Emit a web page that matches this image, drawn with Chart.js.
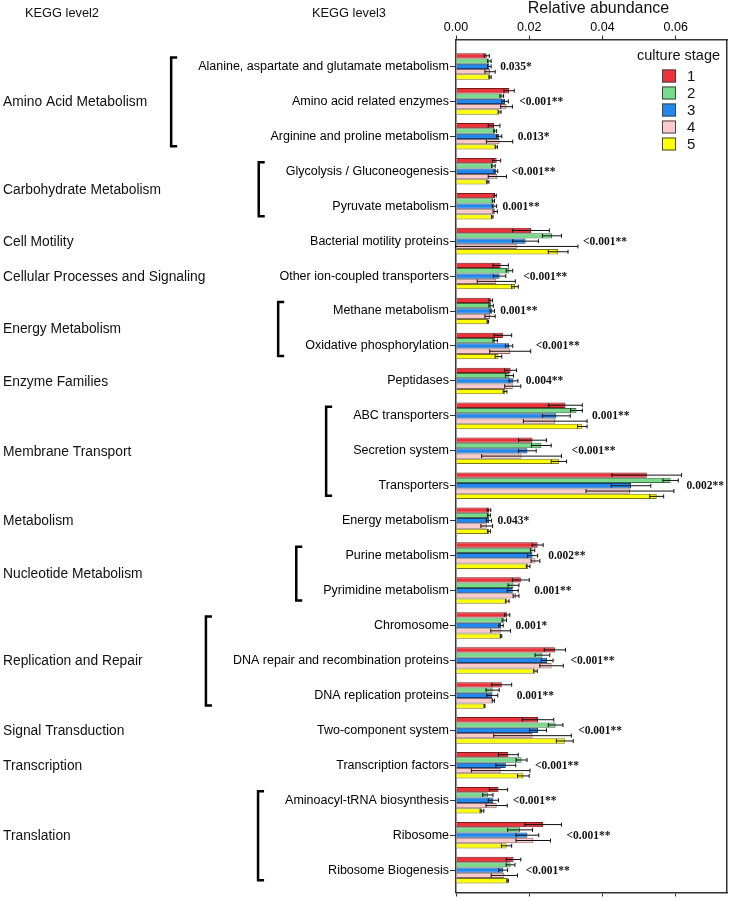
<!DOCTYPE html>
<html><head><meta charset="utf-8">
<script src="https://cdn.jsdelivr.net/npm/chart.js@4.4.1/dist/chart.umd.min.js"></script>
<style>html,body{margin:0;padding:0;background:#fff;}#wrap{width:730px;height:901px;position:relative;}</style>
</head><body><div id="wrap"><canvas id="c" width="730" height="901"></canvas></div>
<script>
// ---------- DATA ----------
const categories = [
  "Alanine, aspartate and glutamate metabolism","Amino acid related enzymes","Arginine and proline metabolism",
  "Glycolysis / Gluconeogenesis","Pyruvate metabolism","Bacterial motility proteins","Other ion-coupled transporters",
  "Methane metabolism","Oxidative phosphorylation","Peptidases","ABC transporters","Secretion system","Transporters",
  "Energy metabolism","Purine metabolism","Pyrimidine metabolism","Chromosome","DNA repair and recombination proteins",
  "DNA replication proteins","Two-component system","Transcription factors","Aminoacyl-tRNA biosynthesis","Ribosome",
  "Ribosome Biogenesis"
];
const groupNames = ["Amino Acid Metabolism","Carbohydrate Metabolism","Cell Motility","Cellular Processes and Signaling",
  "Energy Metabolism","Enzyme Families","Membrane Transport","Metabolism","Nucleotide Metabolism","Replication and Repair",
  "Signal Transduction","Transcription","Translation"];
const groupSizes = [3,2,1,1,2,1,3,1,2,3,1,1,3];
const stageNames = ["1","2","3","4","5"];
const stage1 = [0.0084,0.0145,0.0104,0.0111,0.0107,0.0205,0.0122,0.0095,0.0128,0.0149,0.0299,0.0209,0.0521,0.0090,0.0223,0.0177,0.0140,0.0270,0.0125,0.0224,0.0143,0.0116,0.0238,0.0157];
const stage2 = [0.0091,0.0125,0.0107,0.0102,0.0102,0.0262,0.0146,0.0096,0.0107,0.0146,0.0329,0.0233,0.0586,0.0090,0.0209,0.0157,0.0132,0.0236,0.0100,0.0272,0.0179,0.0087,0.0175,0.0149];
const stage3 = [0.0091,0.0134,0.0118,0.0109,0.0105,0.0190,0.0119,0.0099,0.0145,0.0157,0.0274,0.0195,0.0478,0.0090,0.0209,0.0155,0.0123,0.0249,0.0099,0.0224,0.0136,0.0102,0.0195,0.0129];
const stage4 = [0.0093,0.0138,0.0119,0.0113,0.0107,0.0166,0.0110,0.0093,0.0148,0.0155,0.0271,0.0179,0.0475,0.0084,0.0217,0.0164,0.0122,0.0261,0.0102,0.0209,0.0122,0.0111,0.0211,0.0132];
const stage5 = [0.0093,0.0119,0.0110,0.0087,0.0099,0.0279,0.0161,0.0087,0.0116,0.0134,0.0345,0.0281,0.0548,0.0090,0.0197,0.0140,0.0123,0.0217,0.0078,0.0297,0.0184,0.0071,0.0138,0.0141];
const stage1Err = [0.0007,0.0014,0.0016,0.0011,0.0003,0.0050,0.0021,0.0005,0.0024,0.0016,0.0046,0.0038,0.0095,0.0005,0.0015,0.0023,0.0007,0.0029,0.0027,0.0043,0.0027,0.0025,0.0050,0.0020];
const stage2Err = [0.0005,0.0005,0.0004,0.0005,0.0003,0.0026,0.0009,0.0006,0.0006,0.0011,0.0016,0.0027,0.0021,0.0004,0.0006,0.0015,0.0006,0.0020,0.0018,0.0020,0.0015,0.0014,0.0034,0.0012];
const stage3Err = [0.0005,0.0009,0.0007,0.0005,0.0006,0.0035,0.0017,0.0006,0.0010,0.0012,0.0038,0.0024,0.0054,0.0007,0.0014,0.0015,0.0006,0.0016,0.0015,0.0023,0.0027,0.0014,0.0031,0.0012];
const stage4Err = [0.0014,0.0016,0.0036,0.0025,0.0006,0.0167,0.0052,0.0014,0.0056,0.0022,0.0087,0.0109,0.0120,0.0016,0.0012,0.0008,0.0027,0.0032,0.0003,0.0106,0.0080,0.0029,0.0047,0.0036];
const stage5Err = [0.0003,0.0004,0.0003,0.0003,0.0002,0.0027,0.0009,0.0002,0.0009,0.0005,0.0013,0.0021,0.0019,0.0004,0.0005,0.0005,0.0002,0.0005,0.0001,0.0023,0.0016,0.0005,0.0014,0.0002];
const pValues = ["0.035*","<0.001**","0.013*","<0.001**","0.001**","<0.001**","<0.001**","0.001**","<0.001**","0.004**",
  "0.001**","<0.001**","0.002**","0.043*","0.002**","0.001**","0.001*","<0.001**","0.001**","<0.001**","<0.001**",
  "<0.001**","<0.001**","<0.001**"];
const xTicks = [0, 0.02, 0.04, 0.06];

// ---------- STYLE ----------
const SANS = '"Liberation Sans", Arial, Helvetica, sans-serif';
const SERIF = '"Liberation Serif", "Times New Roman", serif';
const fills = ['#EC333B','#78DB8C','#2088EE','#FDCBCB','#FFFF00'];
const edges = ['#7a1a1a','#3d6d45','#1a3f75','#8a6a6a','#77771a'];
const allVals = [stage1,stage2,stage3,stage4,stage5];
const allErrs = [stage1Err,stage2Err,stage3Err,stage4Err,stage5Err];

const datasets = allVals.map((vals,i)=>({
  label: stageNames[i],
  data: vals.map((v,j)=>({x:v, y:j})),
  errors: allErrs[i],
  backgroundColor: fills[i],
  borderColor: edges[i],
  borderWidth: 1,
  borderSkipped: 'start',
  categoryPercentage: 0.76,
  barPercentage: 1.0,
  xAxisID: 'x', yAxisID: 'y'
}));

const Y_MIN = -0.77, Y_MAX = 23.64;

const errorBars = {
  id:'errorBars',
  afterDatasetsDraw(chart){
    const ctx = chart.ctx, xs = chart.scales.x;
    ctx.save();
    ctx.strokeStyle = '#111'; ctx.lineWidth = 1;
    chart.data.datasets.forEach((ds,i)=>{
      const meta = chart.getDatasetMeta(i);
      meta.data.forEach((el,j)=>{
        const v = ds.data[j].x, e = ds.errors[j];
        const x1 = xs.getPixelForValue(v-e), x2 = xs.getPixelForValue(v+e);
        const y = el.y, h = 2;
        ctx.beginPath();
        ctx.moveTo(x1,y); ctx.lineTo(x2,y);
        ctx.moveTo(x1,y-h); ctx.lineTo(x1,y+h);
        ctx.moveTo(x2,y-h); ctx.lineTo(x2,y+h);
        ctx.stroke();
      });
    });
    ctx.restore();
  }
};

const annotations = {
  id:'annotations',
  afterDraw(chart){
    const ctx = chart.ctx, xs = chart.scales.x, ys = chart.scales.y, area = chart.chartArea;
    ctx.save();
    // axis title
    ctx.font = '16px ' + SANS; ctx.fillStyle = '#111'; ctx.textAlign = 'center'; ctx.textBaseline = 'middle';
    ctx.fillText('Relative abundance', area.left + 142.5, 8.5);
    // p-values
    ctx.font = 'bold 11.5px ' + SERIF;
    ctx.fillStyle = '#111'; ctx.textBaseline = 'middle'; ctx.textAlign = 'left';
    categories.forEach((c,j)=>{
      let mx = 0;
      allVals.forEach((vals,i)=>{ mx = Math.max(mx, vals[j] + allErrs[i][j]); });
      ctx.fillText(pValues[j], xs.getPixelForValue(mx) + 5, ys.getPixelForValue(j) + 0.5);
    });
    // headers
    ctx.font = '12.8px ' + SANS;
    ctx.fillStyle = '#111';
    ctx.fillText('KEGG level2', 25, 13);
    ctx.fillText('KEGG level3', 312, 13);
    // groups & brackets
    const labelRight = area.left - 7;
    let start = 0;
    groupNames.forEach((g,k)=>{
      const n = groupSizes[k];
      const yTop = ys.getPixelForValue(start), yBot = ys.getPixelForValue(start+n-1);
      ctx.font = '13.8px ' + SANS;
      ctx.fillStyle = '#111'; ctx.textAlign='left'; ctx.textBaseline='middle';
      ctx.fillText(g, 3, (yTop+yBot)/2 + 1);
      if (n > 1) {
        ctx.font = '12.5px ' + SANS;
        let mw = 0;
        for (let j=start;j<start+n;j++) mw = Math.max(mw, ctx.measureText(categories[j]).width);
        const bx = labelRight - mw - 27;
        ctx.strokeStyle = '#000'; ctx.lineWidth = 2.5;
        ctx.beginPath();
        ctx.moveTo(bx+6, yTop-9); ctx.lineTo(bx, yTop-9); ctx.lineTo(bx, yBot+10); ctx.lineTo(bx+6, yBot+10);
        ctx.stroke();
      }
      start += n;
    });
    // legend
    const lx = area.right, ly = area.top;
    ctx.font = '14.5px ' + SANS; ctx.fillStyle = '#111'; ctx.textAlign='left'; ctx.textBaseline='middle';
    ctx.fillText('culture stage', lx - 90, ly + 16);
    chart.data.datasets.forEach((ds,i)=>{
      const cy = ly + 36.5 + i*17;
      ctx.fillStyle = ds.backgroundColor;
      ctx.fillRect(lx - 65, cy - 6.5, 14, 13);
      ctx.strokeStyle = '#444'; ctx.lineWidth = 1;
      ctx.strokeRect(lx - 65 + 0.5, cy - 6.5 + 0.5, 13, 12);
      ctx.fillStyle = '#111'; ctx.font = '15px ' + SANS;
      ctx.fillText(ds.label, lx - 40, cy + 1);
    });
    ctx.restore();
  }
};

Chart.defaults.color = '#000';
Chart.defaults.font.family = SANS;

new Chart(document.getElementById('c'), {
  type:'bar',
  data:{ datasets },
  options:{
    indexAxis:'y',
    responsive:false,
    animation:false,
    devicePixelRatio:1,
    layout:{ padding:{ top:0, left:0, right:3, bottom:0 } },
    plugins:{ legend:{display:false}, tooltip:{enabled:false} },
    scales:{
      x:{
        type:'linear', position:'top', min:0, max:0.074,
        afterBuildTicks(s){ s.ticks = xTicks.map(v=>({value:v})); },
        afterFit(s){ s.height = 39.5; },
        ticks:{ callback:v=>Number(v).toFixed(2), font:{size:12.5, family:SANS}, color:'#000', padding:0, maxRotation:0 },
        grid:{ drawOnChartArea:false, tickLength:4, tickColor:'#333' },
        border:{ color:'#333', width:1.5 }
      },
      x2:{
        type:'linear', position:'bottom', min:0, max:0.074,
        afterBuildTicks(s){ s.ticks = xTicks.map(v=>({value:v})); },
        afterFit(s){ s.height = 6; },
        ticks:{ display:false },
        grid:{ drawOnChartArea:false, tickLength:4, tickColor:'#333' },
        border:{ color:'#333', width:1.5 }
      },
      y:{
        type:'linear', reverse:true, min:Y_MIN, max:Y_MAX, offset:false,
        afterBuildTicks(s){ s.ticks = categories.map((c,i)=>({value:i})); },
        afterFit(s){ s.width = 456; },
        ticks:{ callback:v=>categories[v], autoSkip:false, font:{size:12.5, family:SANS}, color:'#000', padding:1 },
        grid:{ drawOnChartArea:false, offset:false, tickLength:6, tickColor:'#333' },
        border:{ color:'#333', width:1.5 }
      },
      y2:{
        type:'linear', position:'right', reverse:true, min:Y_MIN, max:Y_MAX, offset:false,
        afterFit(s){ s.width = 0; },
        ticks:{ display:false },
        grid:{ display:false, drawTicks:false },
        border:{ color:'#333', width:1.5 }
      }
    }
  },
  plugins:[errorBars, annotations]
});
</script></body></html>
